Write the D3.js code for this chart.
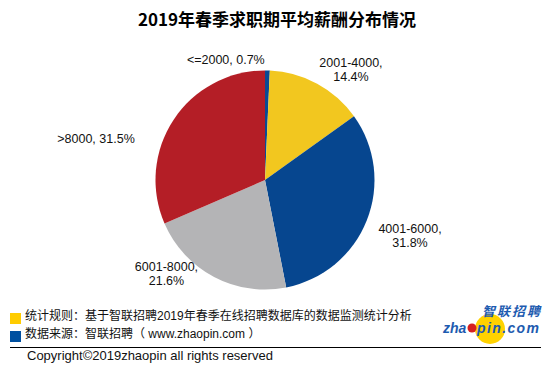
<!DOCTYPE html>
<html lang="zh">
<head>
    <meta charset="UTF-8"/>
    <title>2019年春季求职期平均薪酬分布情况</title>
    <script src="https://d3js.org/d3.v7.min.js"></script>
    <style>
        body { margin: 0; background: #fff; }
        text { font-family: "Liberation Sans", "Noto Sans CJK SC", sans-serif; }
    </style>
</head>
<body>
    <div id="chart"></div>

    <script>
        // data
        var categories = ["<=2000", "2001-4000", "4001-6000", "6001-8000", ">8000"];
        var shares = [0.7, 14.4, 31.8, 21.6, 31.5];
        var sliceColors = ["#0a4a94", "#f2c71f", "#06468f", "#b4b4b6", "#b41e26"];

        // label nudges from the arc centroid (layout only)
        var labelOffset = [[-42, 12], [25, 0], [26, 6], [-39, -22], [-62, 33]];
        var labelTwoLines = [false, true, true, true, false];

        var notes = ["统计规则：基于智联招聘2019年春季在线招聘数据库的数据监测统计分析",
                     "数据来源：智联招聘（ www.zhaopin.com ）"];
        var noteColors = ["#ffcc00", "#0050a0"];

        var w = 554;
        var h = 374;
        var cx = 265, cy = 180, r = 109.5;

        var svg = d3.select("#chart")
                    .append("svg")
                    .attr("width", w)
                    .attr("height", h);

        svg.append("text")
            .attr("x", 277)
            .attr("y", 26)
            .attr("text-anchor", "middle")
            .style("font-family", "'Noto Sans CJK SC', sans-serif")
            .style("font-size", "17px")
            .style("font-weight", "bold")
            .text("2019年春季求职期平均薪酬分布情况");

        var data = categories.map(function(c, i) { return { name: c, value: shares[i], i: i }; });

        var pie = d3.pie()
                    .sort(null)
                    .value(function(d) { return d.value; });

        var arc = d3.arc().innerRadius(0).outerRadius(r);
        var labelArc = d3.arc().innerRadius(128).outerRadius(128);

        var g = svg.append("g").attr("transform", "translate(" + cx + "," + cy + ")");

        g.selectAll("path")
            .data(pie(data))
            .enter()
            .append("path")
            .attr("d", arc)
            .attr("fill", function(d) { return sliceColors[d.data.i]; });

        var labels = g.selectAll(".lbl")
            .data(pie(data))
            .enter()
            .append("text")
            .attr("class", "lbl")
            .attr("text-anchor", "middle")
            .style("font-size", "12.5px")
            .attr("fill", "#111")
            .attr("transform", function(d) {
                var c = labelArc.centroid(d);
                var o = labelOffset[d.data.i];
                return "translate(" + (c[0] + o[0]) + "," + (c[1] + o[1]) + ")";
            });

        labels.each(function(d) {
            var t = d3.select(this);
            var pct = d.data.value.toFixed(1) + "%";
            if (labelTwoLines[d.data.i]) {
                t.append("tspan").attr("x", 0).attr("y", 0).text(d.data.name + ",");
                t.append("tspan").attr("x", 0).attr("y", 14).text(pct);
            } else {
                t.append("tspan").attr("x", 0).attr("y", 0).text(d.data.name + ", " + pct);
            }
        });

        // notes with coloured squares
        var noteY = d3.scaleLinear().domain([0, 1]).range([320, 338]);

        svg.selectAll(".sq")
            .data(notes)
            .enter()
            .append("rect")
            .attr("class", "sq")
            .attr("x", 10)
            .attr("y", function(d, i) { return noteY(i) - 7; })
            .attr("width", 11)
            .attr("height", 11)
            .attr("fill", function(d, i) { return noteColors[i]; });

        svg.selectAll(".note")
            .data(notes)
            .enter()
            .append("text")
            .attr("class", "note")
            .attr("x", 25)
            .attr("y", function(d, i) { return noteY(i); })
            .style("font-size", "12px")
            .attr("fill", "#111")
            .text(function(d) { return d; });

        // logo
        var logo = svg.append("g");
        logo.append("circle").attr("cx", 490).attr("cy", 329).attr("r", 15).attr("fill", "#ffd200");
        logo.append("text")
            .attr("x", 482).attr("y", 316)
            .style("font-family", "'Noto Sans CJK SC', sans-serif")
            .style("font-size", "13px")
            .style("font-weight", "bold")
            .style("font-style", "italic")
            .attr("fill", "#1d5bb0")
            .attr("textLength", 58)
            .text("智联招聘");
        logo.append("text")
            .attr("x", 443).attr("y", 333)
            .style("font-size", "14px")
            .style("font-weight", "bold")
            .style("font-style", "italic")
            .attr("fill", "#1d5bb0")
            .text("zha");
        logo.append("circle").attr("cx", 472).attr("cy", 328).attr("r", 4.5).attr("fill", "#d6201f");
        logo.append("text")
            .attr("x", 477).attr("y", 333)
            .style("font-size", "14px")
            .style("font-weight", "bold")
            .style("font-style", "italic")
            .attr("fill", "#1d5bb0")
            .attr("textLength", 62)
            .text("pin.com");

        svg.append("line")
            .attr("x1", 10).attr("x2", 541)
            .attr("y1", 347.5).attr("y2", 347.5)
            .attr("stroke", "#000")
            .attr("stroke-width", 1);

        svg.append("text")
            .attr("x", 27)
            .attr("y", 360)
            .style("font-size", "13px")
            .attr("fill", "#111")
            .text("Copyright©2019zhaopin all rights reserved");
    </script>
</body>
</html>
